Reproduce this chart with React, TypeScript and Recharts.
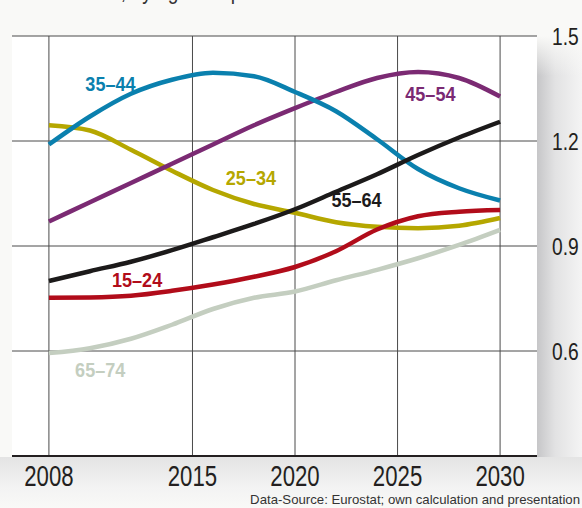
import {
  LineChart,
  Line,
  XAxis,
  YAxis,
  CartesianGrid,
  ReferenceDot,
} from 'recharts';

const YEARS = [2008, 2010, 2012, 2014, 2016, 2018, 2020, 2022, 2024, 2026, 2028, 2030];

const AGE_15_24 = [0.752, 0.753, 0.758, 0.772, 0.79, 0.812, 0.84, 0.885, 0.947, 0.985, 0.998, 1.003];
const AGE_25_34 = [1.245, 1.23, 1.175, 1.115, 1.06, 1.02, 0.995, 0.968, 0.955, 0.951, 0.958, 0.98];
const AGE_35_44 = [1.19, 1.27, 1.335, 1.375, 1.395, 1.385, 1.34, 1.285, 1.205, 1.12, 1.065, 1.03];
const AGE_45_54 = [0.97, 1.025, 1.08, 1.135, 1.19, 1.245, 1.294, 1.34, 1.38, 1.397, 1.38, 1.327];
const AGE_55_64 = [0.8, 0.828, 0.855, 0.888, 0.925, 0.963, 1.005, 1.055, 1.105, 1.16, 1.21, 1.255];
const AGE_65_74 = [0.594, 0.608, 0.635, 0.675, 0.72, 0.752, 0.77, 0.802, 0.832, 0.865, 0.903, 0.946];

const X_TICKS = [2008, 2015, 2020, 2025, 2030];
const Y_TICKS = [0.6, 0.9, 1.2, 1.5];

// series: key, label, colour; label anchor given in data units (year, value)
const SERIES = [
  { key: 'a6574', name: '65–74', color: '#c4cec0', values: AGE_65_74, at: [2010.5, 0.546] },
  { key: 'a2534', name: '25–34', color: '#b5a700', values: AGE_25_34, at: [2017.85, 1.097] },
  { key: 'a1524', name: '15–24', color: '#b10c1a', values: AGE_15_24, at: [2012.3, 0.803] },
  { key: 'a4554', name: '45–54', color: '#7b2a73', values: AGE_45_54, at: [2026.6, 1.337] },
  { key: 'a3544', name: '35–44', color: '#0a80ae', values: AGE_35_44, at: [2011.0, 1.363] },
  { key: 'a5564', name: '55–64', color: '#1c1a1a', values: AGE_55_64, at: [2023.0, 1.034] },
];

const chartData = YEARS.map((year, i) => {
  const row: Record<string, number> = { year };
  SERIES.forEach((s) => {
    row[s.key] = s.values[i];
  });
  return row;
});

// no condensed font installed, so squeeze Liberation Sans horizontally
const FONT = '"Liberation Sans", Arial, sans-serif';

function XTick(props: any) {
  const { x, y, payload } = props;
  return (
    <text
      transform={`translate(${x},${y + 22}) scale(0.74,1)`}
      textAnchor="middle"
      fontFamily={FONT}
      fontSize={30}
      fill="#231f20"
    >
      {payload.value}
    </text>
  );
}

function YTick(props: any) {
  const { y, payload } = props;
  return (
    <text
      transform={`translate(552,${y + 9}) scale(0.8,1)`}
      textAnchor="start"
      fontFamily={FONT}
      fontSize={24}
      fill="#231f20"
    >
      {payload.value.toFixed(1)}
    </text>
  );
}

function seriesLabel(name: string, color: string) {
  return (props: any) => {
    const vb = props.viewBox || {};
    const cx = (vb.x ?? 0) + (vb.width ?? 0) / 2;
    const cy = (vb.y ?? 0) + (vb.height ?? 0) / 2;
    return (
      <text
        transform={`translate(${cx},${cy + 7.5}) scale(0.86,1)`}
        textAnchor="middle"
        fontFamily={FONT}
        fontWeight="bold"
        fontSize={21}
        fill={color}
      >
        {name}
      </text>
    );
  };
}

export default function App() {
  return (
    <div style={{ position: 'absolute', left: 0, top: 0, width: 582, height: 508, overflow: 'hidden', background: '#f9f9f7' }}>
      {/* shaded panel behind the right-hand axis */}
      <div style={{ position: 'absolute', left: 537, top: 36, width: 45, height: 472, background: 'linear-gradient(to right, #c6c6c8, #e2e2e3 40%, #f4f4f4)' }} />
      <div style={{ position: 'absolute', left: 537, top: 36, width: 45, height: 40, background: 'linear-gradient(to bottom, #f9f9f7, rgba(249,249,247,0))' }} />
      {/* shadow under the x axis */}
      <div style={{ position: 'absolute', left: 0, top: 457, width: 582, height: 51, background: 'linear-gradient(to bottom, #e4e4e4, #f3f3f3 60%, #f9f9f7)' }} />
      {/* white plot area */}
      <div style={{ position: 'absolute', left: 12, top: 36, width: 525, height: 420, background: '#ffffff' }} />
      {/* cut-off title */}
      <div style={{ position: 'absolute', left: 76, top: -23, fontFamily: FONT, fontSize: 24, color: '#333', whiteSpace: 'nowrap', lineHeight: '28px', transform: 'scaleX(0.8)', transformOrigin: 'left top' }}>
        Ratio, by age compared
      </div>
      <div style={{ position: 'absolute', left: 0, top: 0 }}>
        <LineChart width={582} height={508} data={chartData} margin={{ top: 36, right: 0, bottom: 0, left: 12 }}>
          <CartesianGrid stroke="#4a4a4a" strokeWidth={1} verticalValues={X_TICKS} horizontalValues={Y_TICKS} />
          <XAxis
            dataKey="year"
            type="number"
            domain={[2006.2, 2031.8]}
            ticks={X_TICKS}
            allowDataOverflow
            height={52}
            axisLine={{ stroke: '#231f20', strokeWidth: 2 }}
            tickLine={false}
            tick={<XTick />}
          />
          <YAxis
            orientation="right"
            type="number"
            domain={[0.3, 1.5]}
            ticks={Y_TICKS}
            allowDataOverflow
            width={45}
            axisLine={false}
            tickLine={false}
            tick={<YTick />}
          />
          {SERIES.map((s) => (
            <Line
              key={s.key}
              type="monotone"
              dataKey={s.key}
              stroke={s.color}
              strokeWidth={4.5}
              dot={false}
              activeDot={false}
              isAnimationActive={false}
            />
          ))}
          {SERIES.map((s) => (
            <ReferenceDot
              key={'lbl' + s.key}
              x={s.at[0]}
              y={s.at[1]}
              r={0}
              fill="none"
              stroke="none"
              label={{ content: seriesLabel(s.name, s.color) }}
            />
          ))}
        </LineChart>
      </div>
      <div style={{ position: 'absolute', right: 2, top: 492, fontFamily: FONT, fontSize: 13.2, color: '#333', whiteSpace: 'nowrap' }}>
        Data-Source: Eurostat; own calculation and presentation
      </div>
    </div>
  );
}
